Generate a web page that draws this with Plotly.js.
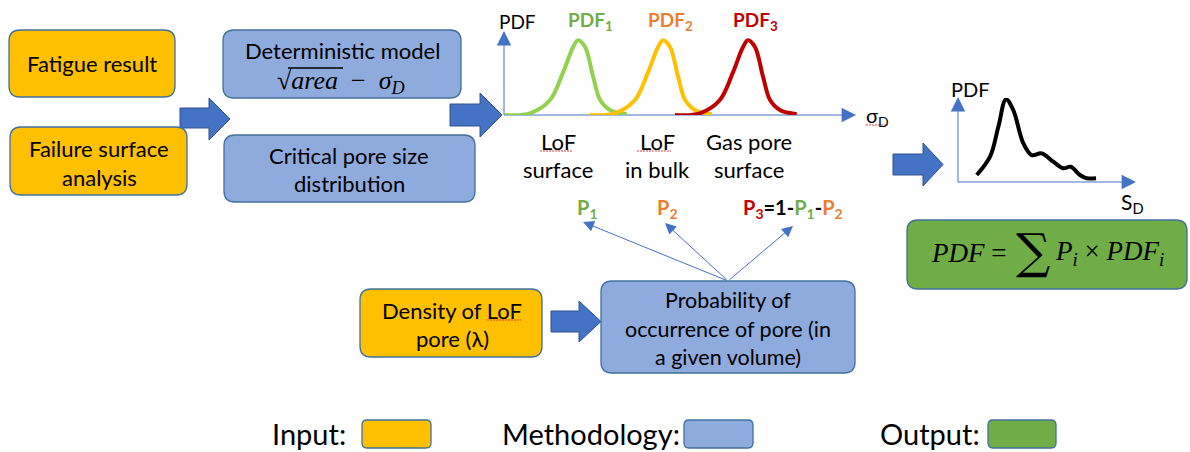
<!DOCTYPE html>
<html>
<head>
<meta charset="utf-8">
<script src="https://cdn.plot.ly/plotly-3.0.1.min.js"></script>
<style>html,body{margin:0;padding:0;background:#fff;}#chart{width:1190px;height:452px;}</style>
</head>
<body>
<div id="chart"></div>
<script>
// ---------- data ----------
// Critical stress PDFs (sigma_D in arbitrary units, PDF normalised)
const sigmaLoFSurface = [0.03, 0.74, 1.31, 1.68, 1.97, 2.11, 2.31, 2.54, 2.74, 3.02, 3.50];
const pdfLoFSurface   = [0.00, 0.02, 0.18, 0.51, 0.82, 0.90, 0.82, 0.46, 0.18, 0.06, 0.01];
const sigmaLoFBulk    = [2.45, 3.16, 3.73, 4.10, 4.39, 4.53, 4.73, 4.96, 5.16, 5.44, 5.92];
const pdfLoFBulk      = [0.00, 0.02, 0.18, 0.51, 0.82, 0.90, 0.82, 0.46, 0.18, 0.06, 0.01];
const sigmaGasPore    = [4.87, 5.58, 6.15, 6.52, 6.81, 6.95, 7.15, 7.38, 7.58, 7.86, 8.34];
const pdfGasPore      = [0.00, 0.02, 0.18, 0.51, 0.82, 0.90, 0.82, 0.46, 0.18, 0.06, 0.01];
// Resulting PDF of S_D
const sD       = [1.06, 1.81, 2.28, 2.71, 3.12, 3.69, 4.16, 4.73, 5.38, 5.95, 6.37, 6.89, 7.27, 7.80];
const pdfTotal = [0.083, 0.301, 0.658, 0.984, 0.857, 0.461, 0.321, 0.341, 0.242, 0.163, 0.182, 0.083, 0.044, 0.044];
// Labels
const curveNames = ['PDF<sub>1</sub>', 'PDF<sub>2</sub>', 'PDF<sub>3</sub>'];
const poreTypes = [['LoF', 'surface'], ['LoF', 'in bulk'], ['Gas pore', 'surface']];
const legendLabels = ['Input:', 'Methodology:', 'Output:'];

// ---------- styles ----------
const C = {orange:'#FFC000', blue:'#8FAADC', green:'#70AD47', border:'#41719C', arrow:'#4472C4', arrowLine:'#2F528F',
           cGreen:'#92D050', tGreen:'#70AD47', cYellow:'#FFC000', tOrange:'#ED7D31', red:'#C00000'};
const W = 1190, H = 452;

function rrect(x0, y0, x1, y1, r) {
  return `M${x0+r},${y0} L${x1-r},${y0} Q${x1},${y0} ${x1},${y0+r} L${x1},${y1-r} Q${x1},${y1} ${x1-r},${y1} ` +
         `L${x0+r},${y1} Q${x0},${y1} ${x0},${y1-r} L${x0},${y0+r} Q${x0},${y0} ${x0+r},${y0} Z`;
}
function box(x0, y0, x1, y1, fill, r) {
  return {type:'path', xref:'x', yref:'y', path:rrect(x0, y0, x1, y1, r || 11), fillcolor:fill,
          line:{color:C.border, width:1.3}, layer:'above'};
}
function blockArrow(sx0, sx1, sy0, sy1, hy0, hy1, tx) {
  const ty = (hy0 + hy1) / 2;
  return {type:'path', xref:'x', yref:'y',
    path:`M${sx0},${sy0} L${sx1},${sy0} L${sx1},${hy0} L${tx},${ty} L${sx1},${hy1} L${sx1},${sy1} L${sx0},${sy1} Z`,
    fillcolor:C.arrow, line:{color:C.arrowLine, width:1}, layer:'above'};
}
function line(x0, y0, x1, y1, color, width, dash) {
  return {type:'line', xref:'x', yref:'y', x0, y0, x1, y1, line:{color, width, dash: dash || 'solid'}, layer:'below'};
}
function squiggle(x0, x1, y) {
  return {type:'line', xref:'x', yref:'y', x0, y0:y, x1, y1:y, line:{color:'#E04040', width:1.2, dash:'2px,1px'}, layer:'above'};
}
function txt(x, y, text, size, opts) {
  return Object.assign({x, y, xref:'x', yref:'y', text, showarrow:false, font:{size, color:'#000'},
                        xanchor:'center', yanchor:'middle'}, opts || {});
}
function arr(x, y, ax, ay, opts) {
  return Object.assign({x, y, ax, ay, xref:'x', yref:'y', axref:'x', ayref:'y', text:'', showarrow:true,
                        arrowhead:2, arrowsize:2.2, arrowwidth:1, arrowcolor:C.arrow}, opts || {});
}

const shapes = [
  // block arrows
  blockArrow(180, 209, 108, 128, 98, 140, 230),
  blockArrow(450, 480, 104, 126, 93, 137, 502),
  blockArrow(893, 923, 154, 175, 143, 186, 943),
  blockArrow(551, 579, 311, 332, 301, 342, 601),
  // boxes
  box(9, 30, 175, 97, C.orange),
  box(10, 127, 187, 195, C.orange),
  box(223, 30, 461, 98, C.blue),
  box(224, 135, 475, 202, C.blue),
  box(360, 289, 542, 357, C.orange),
  box(601, 281, 855, 373, C.blue),
  box(907, 220, 1187, 289, C.green),
  // legend swatches
  box(362, 420, 431, 448, C.orange, 5),
  box(684, 420, 753, 448, C.blue, 5),
  box(988, 420, 1056, 448, C.green, 5),
  // inset axes lines
  line(504, 115, 504, 36, C.arrow, 1),
  line(504, 115, 851, 115, C.arrow, 1),
  line(958, 182, 958, 102, C.arrow, 1),
  line(958, 182, 1131, 182, C.arrow, 1),
  // overline of sqrt
  {type:'line', xref:'x', yref:'y', x0:288, y0:68, x1:343, y1:68, line:{color:'#000', width:1.3}, layer:'above'},
  // spell-check squiggles
  squiggle(540, 573, 151),
  squiggle(637, 671, 151),
  squiggle(866, 888, 125),
  squiggle(487, 521, 320),
];

const annotations = [
  // box texts
  txt(92, 63, 'Fatigue result', 22),
  txt(99, 148, 'Failure surface', 22),
  txt(99, 177, 'analysis', 22),
  txt(342, 50, 'Deterministic model', 22),
  txt(341, 82, '√<i>area</i>  −  <i>σ<sub>D</sub></i>', 26, {font:{size:26, color:'#000', family:'Liberation Serif'}}),
  txt(349, 155, 'Critical pore size', 22),
  txt(349, 183, 'distribution', 22),
  txt(452, 310, 'Density of LoF', 22),
  txt(452, 338, 'pore (λ)', 22),
  txt(728, 300, 'Probability of', 21.5),
  txt(728, 329, 'occurrence of pore (in', 21.5),
  txt(728, 357, 'a given volume)', 21.5),
  // inset 1 labels
  txt(517, 21, 'PDF', 19),
  txt(590, 21, '<b>' + curveNames[0] + '</b>', 19, {font:{size:19, color:C.tGreen}}),
  txt(670, 21, '<b>' + curveNames[1] + '</b>', 19, {font:{size:19, color:C.tOrange}}),
  txt(755, 21, '<b>' + curveNames[2] + '</b>', 19, {font:{size:19, color:C.red}}),
  txt(864, 116, 'σ<sub>D</sub>', 20, {xanchor:'left'}),
  txt(558, 141, poreTypes[0][0], 22), txt(558, 169, poreTypes[0][1], 22),
  txt(657, 141, poreTypes[1][0], 22), txt(657, 169, poreTypes[1][1], 22),
  txt(749, 141, poreTypes[2][0], 22), txt(749, 169, poreTypes[2][1], 22),
  // probabilities
  txt(587, 208, '<b>P<sub>1</sub></b>', 20, {font:{size:20, color:C.tGreen}}),
  txt(667, 208, '<b>P<sub>2</sub></b>', 20, {font:{size:20, color:C.tOrange}}),
  txt(793, 208, `<b><span style="color:${C.red}">P<sub>3</sub></span>=1-<span style="color:${C.tGreen}">P<sub>1</sub></span>-<span style="color:${C.tOrange}">P<sub>2</sub></span></b>`, 20),
  arr(583, 222, 728, 281),
  arr(665, 223, 728, 281),
  arr(793, 226, 728, 281),
  // inset axes arrowheads
  arr(504, 31, 504, 45, {arrowwidth:1.2, arrowsize:2.4}),
  arr(856, 115, 842, 115, {arrowwidth:1.2, arrowsize:2.4}),
  arr(958, 97, 958, 111, {arrowwidth:1.2, arrowsize:2.4}),
  arr(1136, 182, 1122, 182, {arrowwidth:1.2, arrowsize:2.4}),
  // inset 2 labels
  txt(970, 89, 'PDF', 20),
  txt(1132, 203, 'S<sub>D</sub>', 21),
  // output formula
  txt(1008, 253, '<i>PDF</i> =', 27, {xanchor:'right', font:{size:27, color:'#000', family:'Liberation Serif'}}),
  txt(1033, 251, '∑', 48, {font:{size:48, color:'#000', family:'DejaVu Serif'}}),
  txt(1053, 253, '<i>P<sub>i</sub></i> × <i>PDF<sub>i</sub></i>', 27, {xanchor:'left', font:{size:27, color:'#000', family:'Liberation Serif'}}),
  // legend
  txt(348, 433, legendLabels[0], 29, {xanchor:'right'}),
  txt(682, 433, legendLabels[1], 29, {xanchor:'right'}),
  txt(982, 433, legendLabels[2], 29, {xanchor:'right'}),
];

const traces = [
  {x:sigmaLoFSurface, y:pdfLoFSurface, xaxis:'x2', yaxis:'y2', mode:'lines', line:{color:C.cGreen, width:4, shape:'spline', smoothing:1}, hoverinfo:'skip'},
  {x:sigmaLoFBulk, y:pdfLoFBulk, xaxis:'x2', yaxis:'y2', mode:'lines', line:{color:C.cYellow, width:4, shape:'spline', smoothing:1}, hoverinfo:'skip'},
  {x:sigmaGasPore, y:pdfGasPore, xaxis:'x2', yaxis:'y2', mode:'lines', line:{color:C.red, width:4, shape:'spline', smoothing:1}, hoverinfo:'skip'},
  {x:sD, y:pdfTotal, xaxis:'x3', yaxis:'y3', mode:'lines', line:{color:'#000', width:4, shape:'spline', smoothing:1}, hoverinfo:'skip'},
];

const hidden = {visible:false, fixedrange:true};
const layout = {
  width:W, height:H, margin:{l:0, r:0, t:0, b:0}, showlegend:false,
  paper_bgcolor:'#fff', plot_bgcolor:'rgba(0,0,0,0)',
  font:{family:'Lato, "Open Sans", sans-serif', color:'#000'},
  xaxis:Object.assign({range:[0, W], domain:[0, 1]}, hidden),
  yaxis:Object.assign({range:[H, 0], domain:[0, 1]}, hidden),
  xaxis2:Object.assign({range:[0, 10], domain:[504/W, 855/W], anchor:'y2'}, hidden),
  yaxis2:Object.assign({range:[0, 1], domain:[1-115/H, 1-32/H], anchor:'x2'}, hidden),
  xaxis3:Object.assign({range:[0, 10], domain:[958/W, 1135/W], anchor:'y3'}, hidden),
  yaxis3:Object.assign({range:[0, 1], domain:[1-182/H, 1-98/H], anchor:'x3'}, hidden),
  shapes, annotations,
};
Plotly.newPlot('chart', traces, layout, {staticPlot:true, displayModeBar:false});
</script>
</body>
</html>
